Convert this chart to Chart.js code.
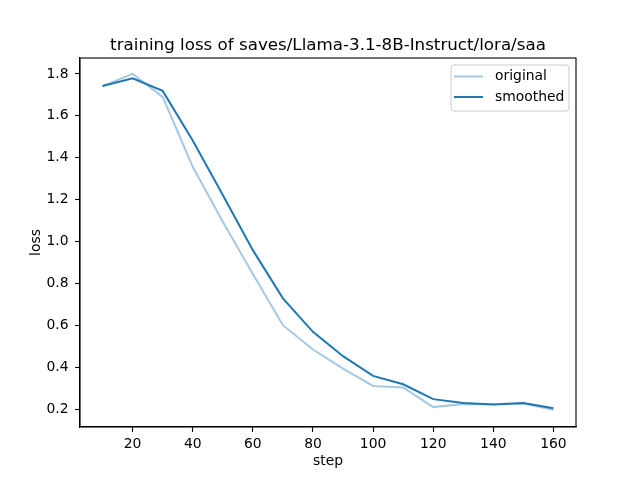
<!DOCTYPE html>
<html>
<head>
<meta charset="utf-8">
<script src="https://cdn.jsdelivr.net/npm/chart.js@4"></script>
<style>
  html, body { margin: 0; padding: 0; background: #fff; }
</style>
</head>
<body>
<canvas id="loss-chart" width="640" height="480"></canvas>
<script>
// data
var steps = [10, 20, 30, 40, 50, 60, 70, 80, 90, 100, 110, 120, 130, 140, 150, 160];
var original = [1.742, 1.800, 1.690, 1.357, 1.095, 0.845, 0.601, 0.485, 0.394, 0.311, 0.304, 0.210, 0.225, 0.224, 0.227, 0.197];
var smoothed = [1.742, 1.779, 1.719, 1.482, 1.222, 0.959, 0.729, 0.569, 0.453, 0.359, 0.319, 0.248, 0.230, 0.222, 0.229, 0.205];
var xTicks = [20, 40, 60, 80, 100, 120, 140, 160];
var yTicks = [0.2, 0.4, 0.6, 0.8, 1.0, 1.2, 1.4, 1.6, 1.8];

var titleText = 'training loss of saves/Llama-3.1-8B-Instruct/lora/saa';
var FONT = '"DejaVu Sans", sans-serif';
var BLUE = '#1f77b4';
var BLUE_FADED = 'rgba(31, 119, 180, 0.4)';

function points(ys) {
    return steps.map(function(s, i) { return { x: s, y: ys[i] }; });
}

// frame, title and legend drawn matplotlib-style
var decorations = {
    id: 'decorations',
    afterDraw: function(chart) {
        var ctx = chart.ctx;
        var a = chart.chartArea;
        ctx.save();

        // full box around the axes
        ctx.strokeStyle = '#000';
        ctx.lineWidth = 1.1;
        ctx.strokeRect(a.left, a.top, a.right - a.left, a.bottom - a.top);

        // title
        ctx.fillStyle = '#000';
        ctx.font = '16.7px ' + FONT;
        ctx.textAlign = 'center';
        ctx.textBaseline = 'alphabetic';
        ctx.fillText(titleText, (a.left + a.right) / 2, 50);

        // legend
        var lx = 451, ly = 65, lw = 118, lh = 46;
        ctx.beginPath();
        ctx.roundRect(lx, ly, lw, lh, 3);
        ctx.fillStyle = 'rgba(255,255,255,0.8)';
        ctx.fill();
        ctx.strokeStyle = '#cccccc';
        ctx.lineWidth = 1;
        ctx.stroke();

        var entries = [
            { label: 'original', color: BLUE_FADED, y: 76.5 },
            { label: 'smoothed', color: BLUE, y: 97 }
        ];
        ctx.font = '13.9px ' + FONT;
        ctx.textAlign = 'left';
        ctx.textBaseline = 'middle';
        entries.forEach(function(e) {
            ctx.beginPath();
            ctx.moveTo(454, e.y);
            ctx.lineTo(483, e.y);
            ctx.strokeStyle = e.color;
            ctx.lineWidth = 2;
            ctx.stroke();
            ctx.fillStyle = '#000';
            ctx.fillText(e.label, 495, e.y);
        });

        ctx.restore();
    }
};

new Chart(document.getElementById('loss-chart'), {
    type: 'line',
    data: {
        datasets: [
            {
                label: 'original',
                data: points(original),
                borderColor: BLUE_FADED,
                borderWidth: 2,
                pointRadius: 0,
                tension: 0,
                order: 1
            },
            {
                label: 'smoothed',
                data: points(smoothed),
                borderColor: BLUE,
                borderWidth: 2,
                pointRadius: 0,
                tension: 0,
                order: 0
            }
        ]
    },
    options: {
        responsive: false,
        animation: false,
        layout: {
            padding: { left: 0, top: 58, right: 64, bottom: 0 }
        },
        plugins: {
            legend: { display: false },
            title: { display: false },
            tooltip: { enabled: false }
        },
        scales: {
            x: {
                type: 'linear',
                min: 2.5,
                max: 167.5,
                afterFit: function(scale) { scale.height = 53; },
                afterBuildTicks: function(scale) {
                    scale.ticks = xTicks.map(function(v) { return { value: v }; });
                },
                border: { display: true, color: '#000', width: 1.1 },
                grid: {
                    drawOnChartArea: false,
                    drawTicks: true,
                    tickLength: 5,
                    tickWidth: 1.1,
                    tickColor: '#000'
                },
                ticks: {
                    color: '#000',
                    padding: 4,
                    maxRotation: 0,
                    font: { family: FONT, size: 13.9 },
                    callback: function(v) { return String(v); }
                },
                title: {
                    display: true,
                    text: 'step',
                    color: '#000',
                    font: { family: FONT, size: 13.9 },
                    padding: { top: 0, bottom: 10 }
                }
            },
            y: {
                type: 'linear',
                min: 0.115,
                max: 1.876,
                afterFit: function(scale) { scale.width = 80; },
                afterBuildTicks: function(scale) {
                    scale.ticks = yTicks.map(function(v) { return { value: v }; });
                },
                border: { display: true, color: '#000', width: 1.1 },
                grid: {
                    drawOnChartArea: false,
                    drawTicks: true,
                    tickLength: 5,
                    tickWidth: 1.1,
                    tickColor: '#000'
                },
                ticks: {
                    color: '#000',
                    padding: 6.5,
                    font: { family: FONT, size: 13.9 },
                    callback: function(v) { return Number(v).toFixed(1); }
                },
                title: {
                    display: true,
                    text: 'loss',
                    color: '#000',
                    font: { family: FONT, size: 13.9 },
                    padding: { top: 28, bottom: 0 }
                }
            }
        }
    },
    plugins: [decorations]
});
</script>
</body>
</html>
